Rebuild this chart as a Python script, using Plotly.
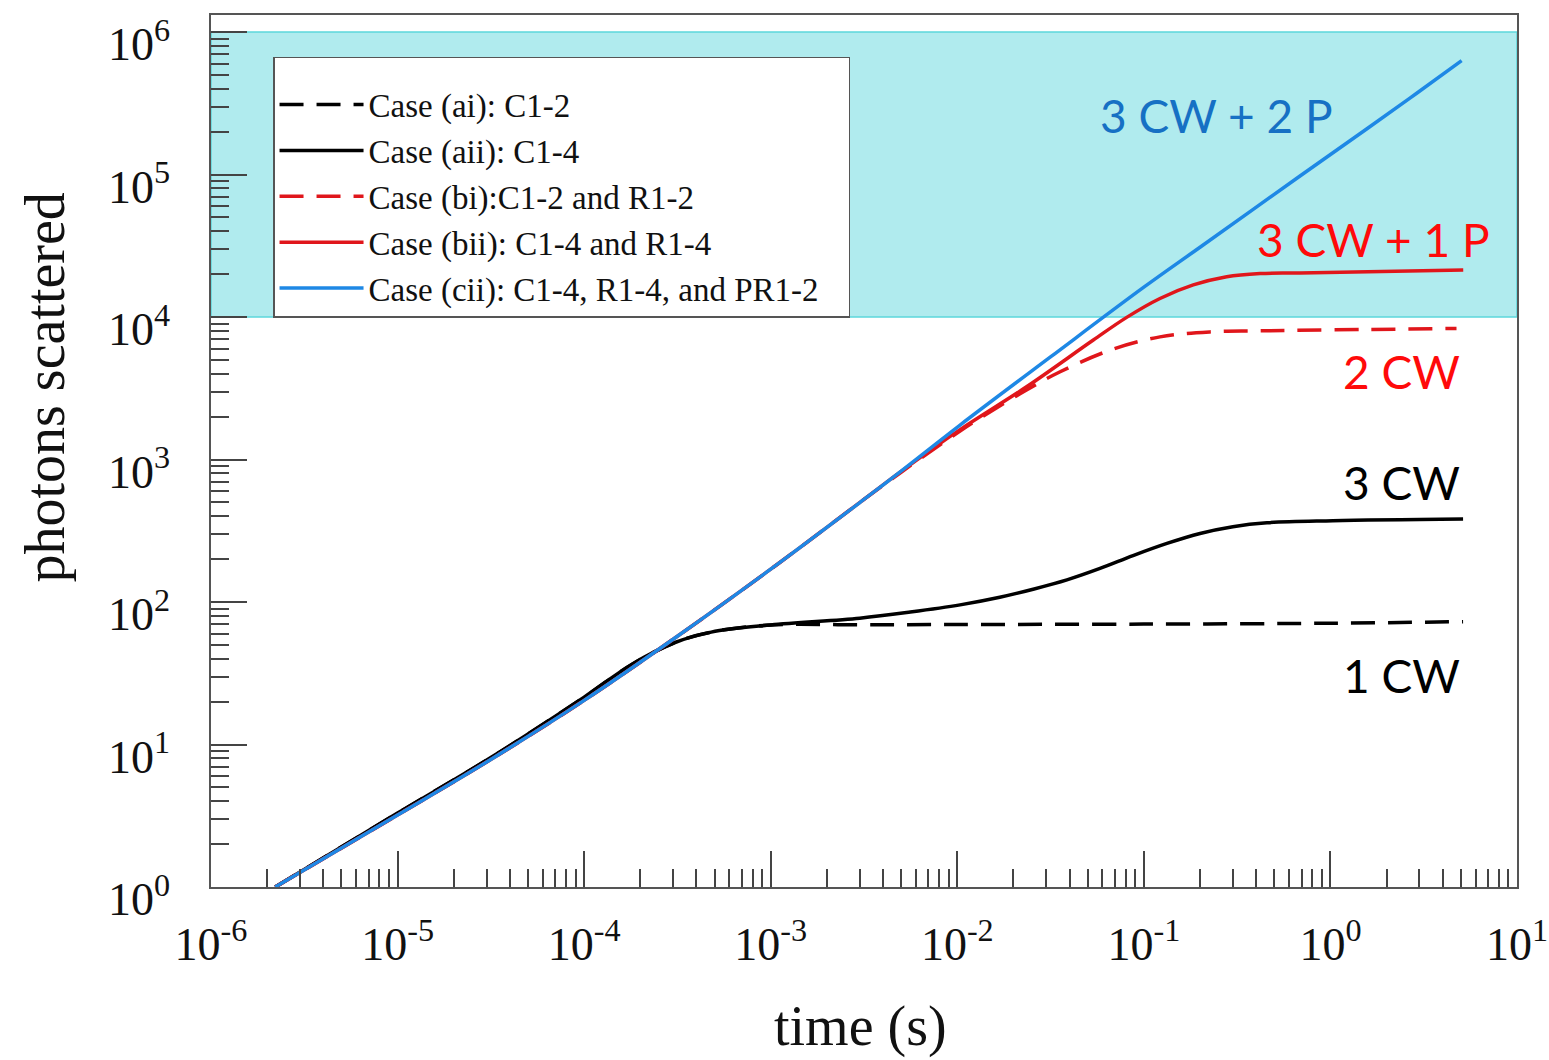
import plotly.graph_objects as go

# ---------------- data ----------------
# Case (cii): C1-4, R1-4 and PR1-2 (blue solid)
t_cii = [2.21e-6, 1e-5, 3.16e-5, 1e-4, 3.16e-4, 1e-3, 3.16e-3, 5e-3, 0.01035,
         0.0316, 0.1, 0.2, 0.687, 1.563, 2.9, 5.05]
y_cii = [1.0, 3.2, 7.85, 20.4, 57.5, 170, 525, 830, 1746,
         5250, 16200, 30900, 97700, 2.09e5, 3.72e5, 6.3e5]

# Case (bii): C1-4 and R1-4 (red solid)
t_bii = [2.21e-6, 1e-5, 3.16e-5, 1e-4, 3.16e-4, 1e-3, 3.16e-3, 5e-3, 0.01035,
         0.0235, 0.0536, 0.0809, 0.122, 0.184, 0.278, 0.42, 0.687, 5.15]
y_bii = [1.0, 3.2, 7.85, 20.4, 57.5, 170, 525, 825, 1622,
         3240, 6900, 9950, 13500, 16800, 19200, 20200, 20400, 21400]

# Case (bi): C1-2 and R1-2 (red dashed)
t_bi = [2.21e-6, 1e-5, 3.16e-5, 1e-4, 3.16e-4, 1e-3, 3.16e-3, 5e-3, 0.01035,
        0.0132, 0.0235, 0.0356, 0.066, 0.122, 0.226, 0.42, 4.74]
y_bi = [1.0, 3.2, 7.85, 20.4, 57.5, 170, 525, 815, 1585,
        1945, 3080, 4130, 5860, 7260, 7870, 8000, 8320]

# Case (aii): C1-4 (black solid)
t_aii = [2.21e-6, 1e-5, 3.16e-5, 1e-4, 1.8e-4, 3.07e-4, 4.8e-4, 1e-3, 3e-3,
         5.6e-3, 0.01035, 0.0169, 0.0255, 0.0387, 0.0582, 0.0875, 0.133, 0.2,
         0.3, 0.457, 1.03, 5.14]
y_aii = [1.0, 3.3, 8.1, 21.5, 36.5, 52, 61.5, 69, 77,
         85, 95.5, 108, 123, 143, 172, 212, 258, 303,
         338, 360, 372, 382]

# Case (ai): C1-2 (black dashed)
t_ai = [2.21e-6, 1e-5, 3.16e-5, 1e-4, 1.8e-4, 3.07e-4, 4.8e-4, 1e-3, 3e-3,
        0.01, 0.1, 1.0, 5.14]
y_ai = [1.0, 3.3, 8.1, 21.5, 36.5, 52, 61.5, 69, 69.2,
        69.5, 70, 71, 72.8]

# shaded band (photons scattered 1e4 .. 1e6)
band_t = [1e-6, 10, 10, 1e-6, 1e-6]
band_y = [1e4, 1e4, 1e6, 1e6, 1e4]

x_tick_vals = [1e-6, 1e-5, 1e-4, 1e-3, 1e-2, 1e-1, 1e0, 1e1]
x_tick_text = ["10<sup>-6</sup>", "10<sup>-5</sup>", "10<sup>-4</sup>", "10<sup>-3</sup>",
               "10<sup>-2</sup>", "10<sup>-1</sup>", "10<sup>0</sup>", "10<sup>1</sup>"]
y_tick_vals = [1e0, 1e1, 1e2, 1e3, 1e4, 1e5, 1e6]
y_tick_text = ["10<sup>0</sup>", "10<sup>1</sup>", "10<sup>2</sup>", "10<sup>3</sup>",
               "10<sup>4</sup>", "10<sup>5</sup>", "10<sup>6</sup>"]

x_minor = [m * 10.0 ** e for e in range(-6, 1) for m in range(2, 10)]
y_minor = [m * 10.0 ** e for e in range(0, 6) for m in range(2, 10)]

legend_names = ["Case (ai): C1-2", "Case (aii): C1-4", "Case (bi):C1-2 and R1-2",
                "Case (bii): C1-4 and R1-4", "Case (cii): C1-4, R1-4, and PR1-2"]

# ---------------- figure ----------------
BLACK = "#000000"
RED = "#E0161B"
BLUE = "#1E88E5"
SERIF = "Liberation Serif"
SANS = "Lato"
LW = 3.5

fig = go.Figure()

fig.add_trace(go.Scatter(x=band_t, y=band_y, mode="lines", fill="toself",
                         fillcolor="#B0EBEE", line=dict(color="#5CD8DC", width=1.5),
                         showlegend=False, hoverinfo="skip"))

dash = "24px,13px"
fig.add_trace(go.Scatter(x=t_ai, y=y_ai, mode="lines", name=legend_names[0],
                         line=dict(color=BLACK, width=LW, dash=dash, shape="spline")))
fig.add_trace(go.Scatter(x=t_aii, y=y_aii, mode="lines", name=legend_names[1],
                         line=dict(color=BLACK, width=LW, shape="spline")))
fig.add_trace(go.Scatter(x=t_bi, y=y_bi, mode="lines", name=legend_names[2],
                         line=dict(color=RED, width=LW, dash=dash, shape="spline")))
fig.add_trace(go.Scatter(x=t_bii, y=y_bii, mode="lines", name=legend_names[3],
                         line=dict(color=RED, width=LW, shape="spline")))
fig.add_trace(go.Scatter(x=t_cii, y=y_cii, mode="lines", name=legend_names[4] + "\u00a0\u00a0\u00a0",
                         line=dict(color=BLUE, width=LW, shape="spline")))

axis_common = dict(
    type="log", showline=True, linecolor="#555555", linewidth=1.5, mirror=True,
    ticks="inside", ticklen=36, tickwidth=1.5, tickcolor="#444444",
    showgrid=False, zeroline=False, ticklabeloverflow="allow", automargin=False,
    tickfont=dict(family=SERIF, size=46, color="#111111"),
)

fig.update_xaxes(range=[-6, 1], tickvals=x_tick_vals, ticktext=x_tick_text,
                 ticklabelstandoff=16,
                 minor=dict(tickvals=x_minor, ticks="inside", ticklen=18,
                            tickwidth=1.5, tickcolor="#444444", showgrid=False),
                 **axis_common)
fig.update_yaxes(range=[0, 6.12], tickvals=y_tick_vals, ticktext=y_tick_text,
                 ticklabelstandoff=30, ticklabelshift=12,
                 minor=dict(tickvals=y_minor, ticks="inside", ticklen=18,
                            tickwidth=1.5, tickcolor="#444444", showgrid=False),
                 **axis_common)

annotations = [
    dict(text="photons scattered", x=-0.127, y=0.573, xref="paper", yref="paper",
         textangle=-90, showarrow=False, font=dict(family=SERIF, size=56, color="#111111"),
         xanchor="center", yanchor="middle"),
    dict(text="time (s)", x=0.4975, y=-0.160, xref="paper", yref="paper",
         showarrow=False, font=dict(family=SERIF, size=56, color="#111111"),
         xanchor="center", yanchor="middle"),
    dict(text="3 CW + 2 P", x=0.861, y=0.885, xref="paper", yref="paper",
         showarrow=False, font=dict(family=SANS, size=46, color="#1670C4"),
         xanchor="right", yanchor="middle"),
    dict(text="3 CW + 1 P", x=0.981, y=0.742, xref="paper", yref="paper",
         showarrow=False, font=dict(family=SANS, size=46, color="#FF0A0A"),
         xanchor="right", yanchor="middle"),
    dict(text="2 CW", x=0.958, y=0.591, xref="paper", yref="paper",
         showarrow=False, font=dict(family=SANS, size=46, color="#FF0A0A"),
         xanchor="right", yanchor="middle"),
    dict(text="3 CW", x=0.958, y=0.464, xref="paper", yref="paper",
         showarrow=False, font=dict(family=SANS, size=46, color="#000000"),
         xanchor="right", yanchor="middle"),
    dict(text="1 CW", x=0.958, y=0.243, xref="paper", yref="paper",
         showarrow=False, font=dict(family=SANS, size=46, color="#000000"),
         xanchor="right", yanchor="middle"),
]

fig.update_layout(
    width=1549, height=1060,
    margin=dict(l=211, r=32, t=15, b=173, pad=0, autoexpand=False),
    paper_bgcolor="white", plot_bgcolor="white",
    annotations=annotations,
    legend=dict(x=0.0475, y=0.952, xanchor="left", yanchor="top",
                bgcolor="white", bordercolor="#555555", borderwidth=1.5,
                font=dict(family=SERIF, size=33, color="#111111"),
                title=dict(text=" ", font=dict(size=14)),
                itemwidth=84, traceorder="normal"),
    showlegend=True,
)

fig.write_html("out.html", config={"displayModeBar": False},
               post_script="document.body.style.margin='0';document.body.style.overflow='hidden';")
